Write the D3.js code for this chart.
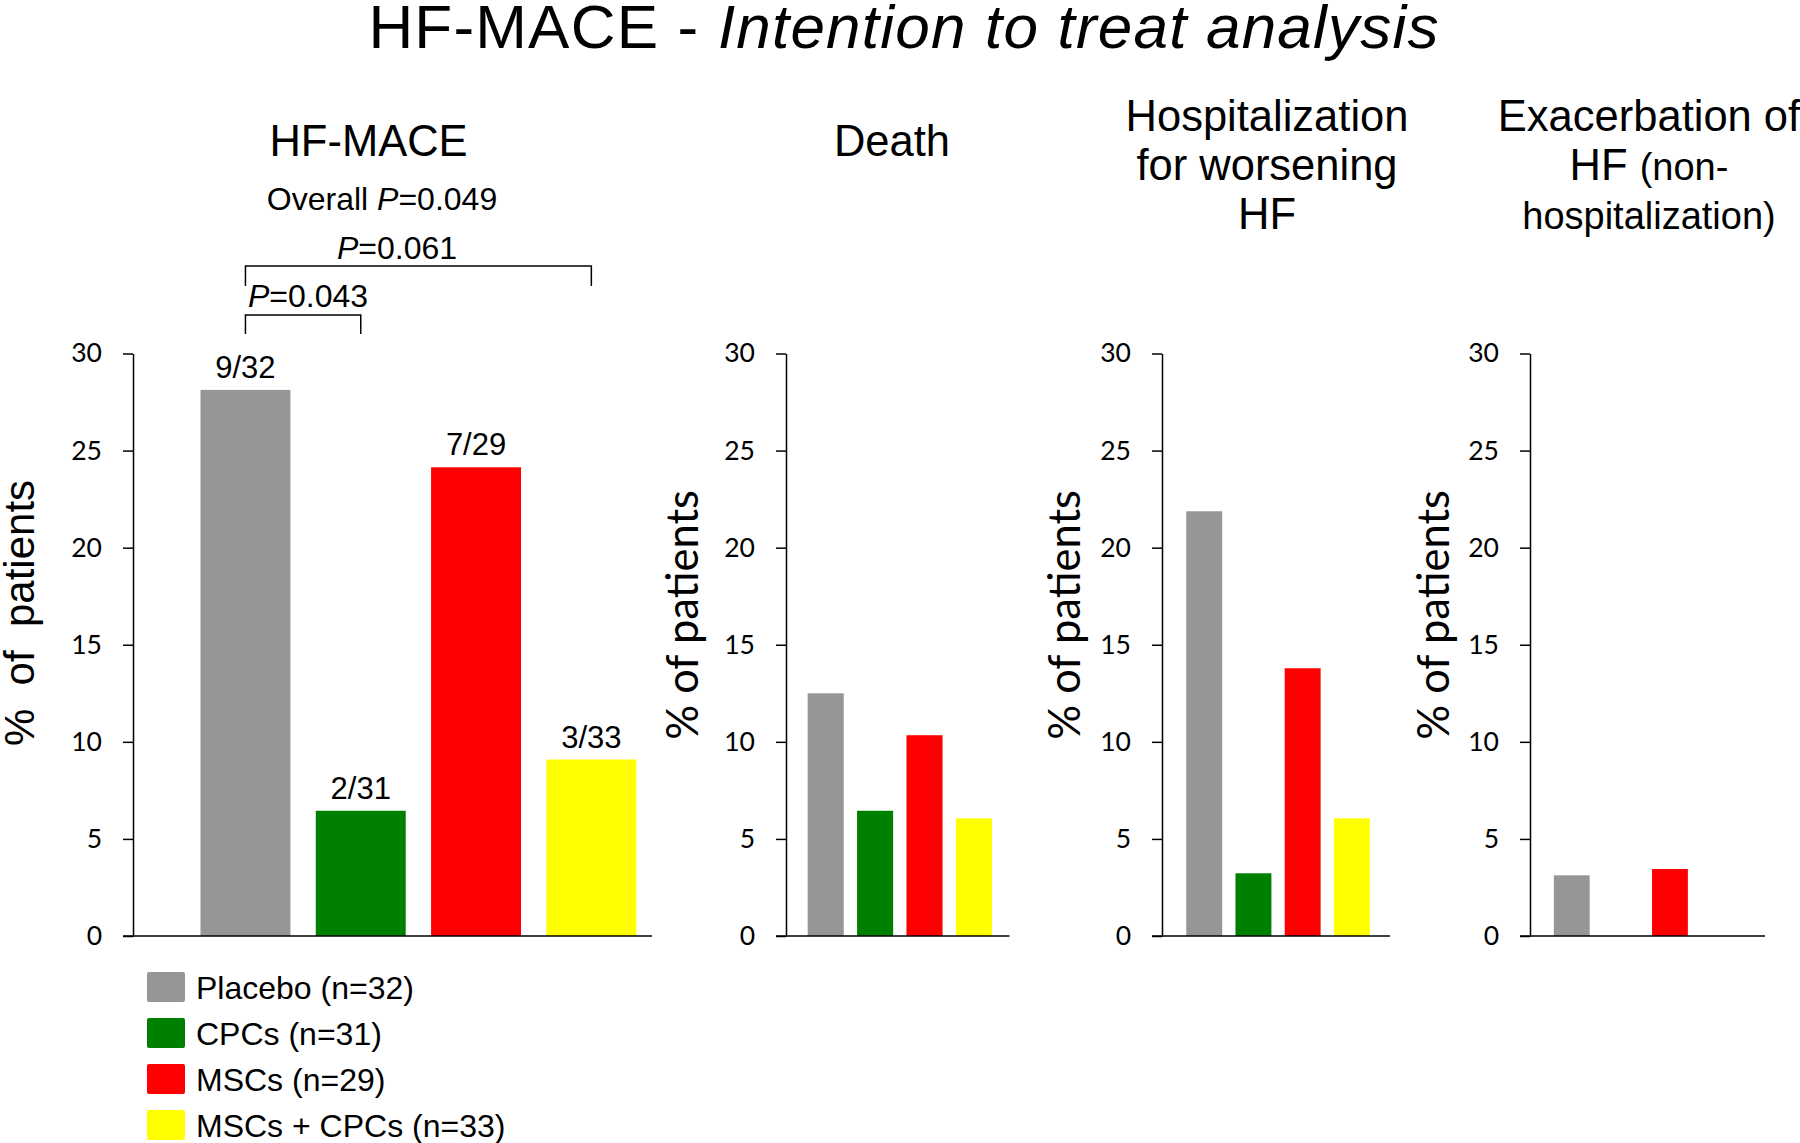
<!DOCTYPE html>
<html>
<head>
<meta charset="utf-8">
<script src="https://cdn.jsdelivr.net/npm/d3@7"></script>
<style>
  html, body { margin: 0; padding: 0; background: #fff; }
  svg { display: block; }
  .arial { font-family: "Liberation Sans", Arial, sans-serif; }
  .calibri { font-family: Lato, "Open Sans", sans-serif; }
</style>
</head>
<body>
<script>
// ---------- data ----------
const groups = ["Placebo (n=32)", "CPCs (n=31)", "MSCs (n=29)", "MSCs + CPCs (n=33)"];
const groupColors = ["#969696", "#008000", "#FF0000", "#FFFF00"];
const hfmaceValues = [28.125, 6.45, 24.14, 9.09];
const hfmaceCounts = ["9/32", "2/31", "7/29", "3/33"];
const deathValues = [12.5, 6.45, 10.34, 6.06];
const hospitalizationValues = [21.875, 3.23, 13.79, 6.06];
const exacerbationValues = [3.125, 0, 3.45, 0];
const yTickValues = [0, 5, 10, 15, 20, 25, 30];
const yLabel = "% of patients";
const yLabelWide = "%\u00a0\u00a0of\u00a0\u00a0patients";
const mainTitle = ["HF-MACE - ", "Intention to treat analysis"];
const overallP = ["Overall ", "P", "=0.049"];
const pairP1 = ["P", "=0.061"];   // Placebo vs MSCs + CPCs
const pairP2 = ["P", "=0.043"];   // Placebo vs CPCs

// ---------- layout ----------
const W = 1800, H = 1143;
const svg = d3.select("body").append("svg").attr("width", W).attr("height", H);
const y = d3.scaleLinear().domain([0, 30]).range([936, 353.5]);

const panels = [
  { values: hfmaceValues, counts: hfmaceCounts, axisX: 133, band: [187.8, 649], pad: 0.22, axisEnd: 652,
    title: [[{t: "HF-MACE"}]], titleX: 368.5, titleY: [156], ylab: yLabelWide, ylabX: 34, ylabY: 613, ylabFont: "arial", ylabSize: 42 },
  { values: deathValues, axisX: 786, band: [801, 998.6], pad: 0.27, axisEnd: 1009.5,
    title: [[{t: "Death"}]], titleX: 892, titleY: [156], ylab: yLabel, ylabX: 698, ylabY: 615, ylabFont: "calibri", ylabSize: 43.5 },
  { values: hospitalizationValues, axisX: 1162, band: [1179.6, 1376.5], pad: 0.27, axisEnd: 1390,
    title: [[{t: "Hospitalization"}], [{t: "for worsening"}], [{t: "HF"}]], titleX: 1267, titleY: [131, 180, 229],
    ylab: yLabel, ylabX: 1080, ylabY: 615, ylabFont: "calibri", ylabSize: 43.5 },
  { values: exacerbationValues, axisX: 1530, band: [1547.2, 1743.6], pad: 0.27, axisEnd: 1765,
    title: [[{t: "Exacerbation of"}], [{t: "HF "}, {t: "(non-", small: true}], [{t: "hospitalization)", small: true}]],
    titleX: 1649, titleY: [131, 180, 229], ylab: yLabel, ylabX: 1449, ylabY: 615, ylabFont: "calibri", ylabSize: 43.5 }
];

// main title
const mt = svg.append("text").attr("class", "arial").attr("x", 904).attr("y", 48)
  .attr("text-anchor", "middle").attr("font-size", 62).attr("letter-spacing", 1.2).attr("fill", "#000");
mt.append("tspan").text(mainTitle[0]);
mt.append("tspan").attr("font-style", "italic").text(mainTitle[1]);

panels.forEach((p, pi) => {
  const g = svg.append("g");
  const x = d3.scaleBand().domain(d3.range(groups.length)).range(p.band)
    .paddingInner(p.pad).paddingOuter(p.pad / 2);

  // bars
  g.selectAll("rect.bar").data(p.values.map((v, i) => ({v, i})).filter(d => d.v > 0))
    .join("rect").attr("class", "bar")
    .attr("x", d => x(d.i)).attr("width", x.bandwidth())
    .attr("y", d => y(d.v)).attr("height", d => y(0) - y(d.v))
    .attr("fill", d => groupColors[d.i]);

  // y axis
  const ax = g.append("g").attr("transform", `translate(${p.axisX},0)`)
    .call(d3.axisLeft(y).tickValues(yTickValues).tickSize(10).tickSizeOuter(0).tickPadding(21));
  ax.select(".domain").attr("stroke", "#000").attr("stroke-width", 1.5);
  ax.selectAll(".tick line").attr("stroke", "#000").attr("stroke-width", 1.5);
  ax.selectAll(".tick text").attr("class", "calibri").attr("font-size", 26.5).attr("fill", "#000")
    .attr("font-family", "Lato, 'Open Sans', sans-serif");

  // x baseline
  g.append("line").attr("x1", p.axisX - 10).attr("x2", p.axisEnd)
    .attr("y1", y(0)).attr("y2", y(0)).attr("stroke", "#000").attr("stroke-width", 1.5);

  // y label
  g.append("text").attr("class", p.ylabFont)
    .attr("transform", `translate(${p.ylabX},${p.ylabY}) rotate(-90)`)
    .attr("text-anchor", "middle").attr("font-size", p.ylabSize).attr("fill", "#000")
    .text(p.ylab);

  // title
  p.title.forEach((line, li) => {
    const t = g.append("text").attr("class", "arial").attr("x", p.titleX).attr("y", p.titleY[li])
      .attr("text-anchor", "middle").attr("font-size", 43.5).attr("fill", "#000");
    line.forEach(seg => {
      const ts = t.append("tspan").text(seg.t);
      if (seg.small) ts.attr("font-size", 38);
    });
  });

  // count labels
  if (p.counts) {
    g.selectAll("text.count").data(p.values.map((v, i) => ({v, i})))
      .join("text").attr("class", "count arial")
      .attr("x", d => x(d.i) + x.bandwidth() / 2).attr("y", d => y(d.v) - 12)
      .attr("text-anchor", "middle").attr("font-size", 31).attr("fill", "#000")
      .text(d => p.counts[d.i]);

    const cx = i => x(i) + x.bandwidth() / 2;
    // overall P
    const ot = g.append("text").attr("class", "arial").attr("x", 382).attr("y", 210)
      .attr("text-anchor", "middle").attr("font-size", 32).attr("fill", "#000");
    ot.append("tspan").text(overallP[0]);
    ot.append("tspan").attr("font-style", "italic").text(overallP[1]);
    ot.append("tspan").text(overallP[2]);

    // brackets
    const bracket = (i0, i1, yTop, yBot) => {
      g.append("path").attr("fill", "none").attr("stroke", "#000").attr("stroke-width", 1.5)
        .attr("d", `M${cx(i0)},${yBot}V${yTop}H${cx(i1)}V${yBot}`);
    };
    bracket(0, 3, 266, 286);
    bracket(0, 1, 315, 334);

    const p1 = g.append("text").attr("class", "arial").attr("x", 397).attr("y", 259)
      .attr("text-anchor", "middle").attr("font-size", 32).attr("fill", "#000");
    p1.append("tspan").attr("font-style", "italic").text(pairP1[0]);
    p1.append("tspan").text(pairP1[1]);

    const p2 = g.append("text").attr("class", "arial").attr("x", 248).attr("y", 307)
      .attr("text-anchor", "start").attr("font-size", 32).attr("fill", "#000");
    p2.append("tspan").attr("font-style", "italic").text(pairP2[0]);
    p2.append("tspan").text(pairP2[1]);
  }
});

// legend
const leg = svg.append("g").attr("transform", "translate(147,972)");
groups.forEach((name, i) => {
  const row = leg.append("g").attr("transform", `translate(0,${i * 46})`);
  row.append("rect").attr("x", 0).attr("y", 0).attr("width", 38).attr("height", 30)
    .attr("rx", 2).attr("fill", groupColors[i]);
  row.append("text").attr("class", "arial").attr("x", 49).attr("y", 27)
    .attr("font-size", 32).attr("fill", "#000").text(name);
});
</script>
</body>
</html>
